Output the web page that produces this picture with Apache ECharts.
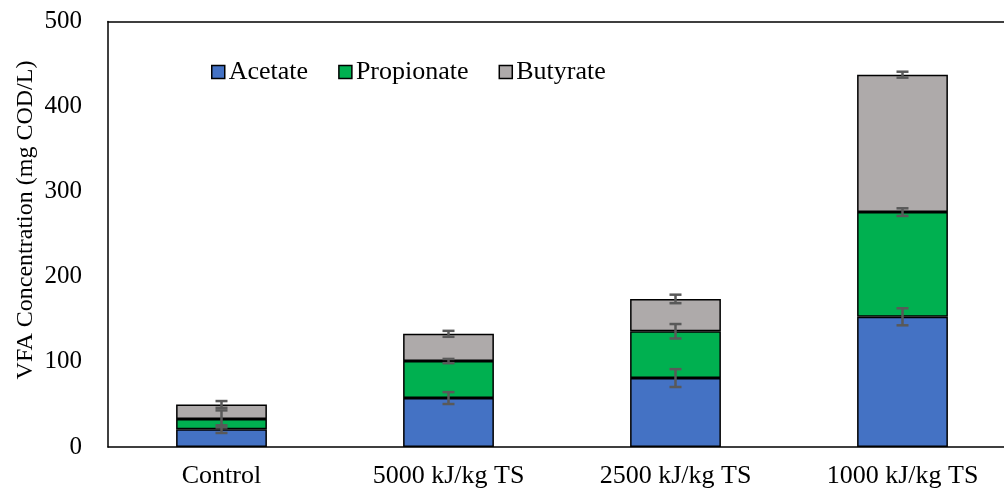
<!DOCTYPE html>
<html>
<head>
<meta charset="utf-8">
<script src="https://cdn.jsdelivr.net/npm/echarts@6/dist/echarts.min.js"></script>
<style>
  html, body { margin: 0; padding: 0; background: #fff; }
  #chart { width: 1004px; height: 493px; }
</style>
</head>
<body>
<div id="chart"></div>
<script>
// Pretreatment groups on the x axis
var categories = ['Control', '5000 kJ/kg TS', '2500 kJ/kg TS', '1000 kJ/kg TS'];

// VFA components (mg COD/L)
var acetate    = [21, 57.5, 81, 153];
var propionate = [12, 43.5, 55, 123];
var butyrate   = [17, 32, 38, 161.5];

// Standard deviations for each component
var acetateErr    = [4.5, 7, 10.5, 10];
var propionateErr = [10, 2.5, 8.5, 4.5];
var butyrateErr   = [4, 3.5, 5, 3.5];

var yTicks = [0, 100, 200, 300, 400, 500];

var FONT = '"Liberation Serif", "Times New Roman", serif';
var colors = { acetate: '#4472C4', propionate: '#00B050', butyrate: '#AEAAAA' };

// Error bars sit at the cumulative top of each stacked segment
function stackTops(layers) {
  var out = [];
  var running = categories.map(function () { return 0; });
  layers.forEach(function (layer) {
    running = running.map(function (v, i) { return v + layer[i]; });
    out.push(running.slice());
  });
  return out;
}
var tops = stackTops([acetate, propionate, butyrate]);
var errs = [acetateErr, propionateErr, butyrateErr];
var errData = [];
tops.forEach(function (row, s) {
  row.forEach(function (top, i) {
    errData.push([i, top, errs[s][i]]);
  });
});

function renderError(params, api) {
  var i = api.value(0), y = api.value(1), e = api.value(2);
  var hi = api.coord([i, y + e]);
  var lo = api.coord([i, y - e]);
  var cap = 6;
  var style = { stroke: '#595959', lineWidth: 2.5 };
  return {
    type: 'group',
    children: [
      { type: 'line', shape: { x1: hi[0], y1: hi[1], x2: lo[0], y2: lo[1] }, style: style },
      { type: 'line', shape: { x1: hi[0] - cap, y1: hi[1], x2: hi[0] + cap, y2: hi[1] }, style: style },
      { type: 'line', shape: { x1: lo[0] - cap, y1: lo[1], x2: lo[0] + cap, y2: lo[1] }, style: style }
    ]
  };
}

function barSeries(name, data, color) {
  return {
    name: name,
    type: 'bar',
    stack: 'vfa',
    barWidth: '40%',
    data: data,
    itemStyle: { color: color, borderColor: '#000', borderWidth: 1.5 },
    emphasis: { disabled: true }
  };
}

var chart = echarts.init(document.getElementById('chart'), null, { renderer: 'canvas' });
chart.setOption({
  animation: false,
  backgroundColor: '#fff',
  grid: {
    left: 108, top: 21.5, width: 908, height: 425.5,
    outerBoundsMode: 'none'
  },
  legend: {
    data: ['Acetate', 'Propionate', 'Butyrate'],
    icon: 'rect',
    left: 206, top: 54,
    itemWidth: 13, itemHeight: 13, itemGap: 30,
    itemStyle: { borderColor: '#000', borderWidth: 1.5 },
    textStyle: { fontFamily: FONT, fontSize: 26, color: '#000', padding: [0, 0, 0, -1] }
  },
  graphic: [{
    type: 'text',
    x: 26, y: 220,
    rotation: Math.PI / 2,
    style: {
      text: 'VFA Concentration (mg COD/L)',
      fontFamily: FONT, fontSize: 24, fill: '#000',
      align: 'center', verticalAlign: 'middle'
    }
  }],
  xAxis: [{
    type: 'category',
    data: categories,
    axisLine: { lineStyle: { color: '#000', width: 1.5 } },
    axisTick: { show: false },
    axisLabel: { fontFamily: FONT, fontSize: 26, color: '#000', margin: 16, interval: 0 }
  }, {
    // frame line along the top of the plot area
    type: 'category',
    data: categories,
    position: 'top',
    axisLine: { show: true, lineStyle: { color: '#000', width: 1.5 } },
    axisTick: { show: false },
    axisLabel: { show: false }
  }],
  yAxis: {
    type: 'value',
    min: yTicks[0], max: yTicks[yTicks.length - 1], interval: yTicks[1] - yTicks[0],
    axisLine: { show: true, lineStyle: { color: '#000', width: 1.5 } },
    axisTick: { show: false },
    splitLine: { show: false },
    axisLabel: { fontFamily: FONT, fontSize: 25, color: '#000', margin: 26 }
  },
  series: [
    barSeries('Acetate', acetate, colors.acetate),
    barSeries('Propionate', propionate, colors.propionate),
    barSeries('Butyrate', butyrate, colors.butyrate),
    {
      type: 'custom',
      renderItem: renderError,
      data: errData,
      z: 10,
      silent: true,
      encode: { x: 0, y: 1 }
    }
  ]
});
</script>
</body>
</html>
